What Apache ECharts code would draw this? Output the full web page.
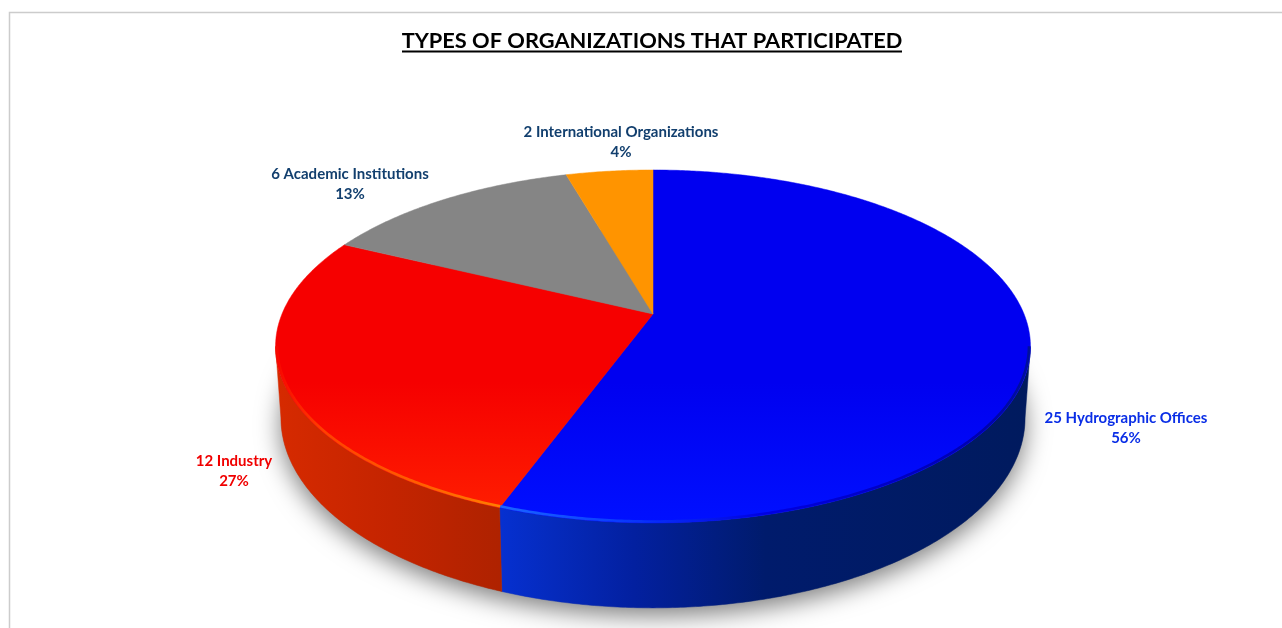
<!DOCTYPE html>
<html><head><meta charset="utf-8">
<style>html,body{margin:0;padding:0;background:#fff}#c{width:1282px;height:628px}</style>
<script src="https://cdn.jsdelivr.net/npm/echarts@6/dist/echarts.min.js"></script>
</head><body><div id="c"></div>
<script>
const titleText = 'TYPES OF ORGANIZATIONS THAT PARTICIPATED';
const categories = ['Hydrographic Offices', 'Industry', 'Academic Institutions', 'International Organizations'];
const counts = [25, 12, 6, 2];
const topColors = [['#0000f0', '#0010ff'], ['#f60000', '#ff2000'], ['#858585', '#888888'], ['#ff9400', '#ff9400']];
const labelColors = ['#0a2ee6', '#f00000', '#123f6e', '#123f6e'];
const labelPositions = [[1126, 428], [234, 471], [350, 184], [621, 142]];

const total = counts.reduce((a, b) => a + b, 0);
const cx = 653;
const persp = 0.184;
const topDisc = {y0: 314, a: 371, b: 170.5};
const lowDisc = {y0: 383, a: 365.7, b: 183.5};
const rad = d => d * Math.PI / 180;
// degrees clockwise from 12 o'clock -> screen point on a perspective disc
function pt(disc, deg) {
  const u = Math.sin(rad(deg)), v = Math.cos(rad(deg)), w = 1 + persp * v;
  return [cx + disc.a * u / w, disc.y0 - disc.b * v / w];
}
function arc(disc, from, to) {
  const pts = [], n = Math.max(2, Math.ceil(Math.abs(to - from) * 2));
  for (let i = 0; i <= n; i++) pts.push(pt(disc, from + (to - from) * i / n));
  return pts;
}
const edgeR = Math.acos(-persp) * 180 / Math.PI, edgeL = 360 - edgeR;
const starts = []; { let s = 0; counts.forEach(c => { starts.push(s); s += c / total * 360; }); }
const G = (x, y, x2, y2, stops) => new echarts.graphic.LinearGradient(x, y, x2, y2,
  stops.map(s => ({offset: s[0], color: s[1]})), true);
const sideFills = [
  G(501, 0, 1030, 0, [[0, '#0630d0'], [0.1, '#052abc'], [0.25, '#0320a0'], [0.5, '#001b6c'], [1, '#001a5e']]),
  G(278, 0, 504, 0, [[0, '#d62a00'], [0.5, '#c42400'], [1, '#ae2200']])
];
const rimStrokes = [
  G(501, 0, 1030, 0, [[0, '#1a66ff'], [0.2, '#0c40ff'], [0.5, '#0000e0'], [0.9, '#0000b0'], [1, '#00109a']]),
  G(278, 0, 504, 0, [[0, '#f80800'], [0.2, '#ff4000'], [0.7, '#ff6400'], [1, '#ff8000']])
];

function renderSlice(params, api) {
  const i = params.dataIndex, val = api.value(0);
  const a0 = starts[i], a1 = a0 + val / total * 360;
  const children = [];
  const from = Math.max(a0, edgeR), to = Math.min(a1, edgeL);
  if (to > from) {
    children.push({type: 'polygon', z2: 1, silent: true,
      shape: {points: arc(topDisc, from, to).concat(arc(lowDisc, to, from))},
      style: {fill: sideFills[i], stroke: sideFills[i], lineWidth: 0.5}});
  }
  const fill = G(0, 170, 0, 523, [[0, topColors[i][0]], [0.6, topColors[i][0]], [1, topColors[i][1]]]);
  children.push({type: 'polygon', z2: 2, silent: true,
    shape: {points: [[cx, topDisc.y0]].concat(arc(topDisc, a0, a1))},
    style: {fill: fill, stroke: fill, lineWidth: 0.5}});
  if (to > from) {
    const inner = {y0: topDisc.y0, a: topDisc.a - 1.5, b: topDisc.b - 1.2};
    children.push({type: 'polyline', z2: 3, silent: true,
      shape: {points: arc(inner, from, to)},
      style: {fill: null, stroke: rimStrokes[i], lineWidth: 2.6}});
  }
  const pct = Math.round(val / total * 100);
  children.push({type: 'text', z2: 4, silent: true,
    style: {text: val + ' ' + categories[i] + '\n' + pct + '%', x: labelPositions[i][0], y: labelPositions[i][1],
      align: 'center', verticalAlign: 'middle', font: 'bold 15px Lato', lineHeight: 20, fill: labelColors[i]}});
  return {type: 'group', children};
}
function renderShadow(params, api) {
  return {type: 'polygon', silent: true,
    shape: {points: arc(lowDisc, 0, 360)},
    style: {fill: '#888', shadowBlur: 24, shadowColor: 'rgba(0,0,0,0.5)', shadowOffsetX: 0, shadowOffsetY: 8}};
}
const chart = echarts.init(document.getElementById('c'), null, {renderer: 'canvas'});
chart.setOption({
  animation: false,
  backgroundColor: '#fff',
  title: {text: titleText, left: 647, top: 25, textAlign: 'center',
    textStyle: {fontFamily: 'Lato', fontWeight: 'bold', fontSize: 21.8, color: '#000'}},
  graphic: [
    {type: 'polyline', silent: true, shape: {points: [[9.5, 628], [9.5, 12.5], [1282, 12.5]]},
      style: {fill: null, stroke: '#cccccc', lineWidth: 1.5}},
    {type: 'line', silent: true, shape: {x1: 402, y1: 51.5, x2: 902, y2: 51.5}, style: {stroke: '#000', lineWidth: 2}}
  ],
  series: [
    {type: 'custom', coordinateSystem: 'none', z: 1, data: [0], renderItem: renderShadow, silent: true},
    {type: 'custom', coordinateSystem: 'none', z: 2, data: counts, renderItem: renderSlice, silent: true}
  ]
});
</script></body></html>
